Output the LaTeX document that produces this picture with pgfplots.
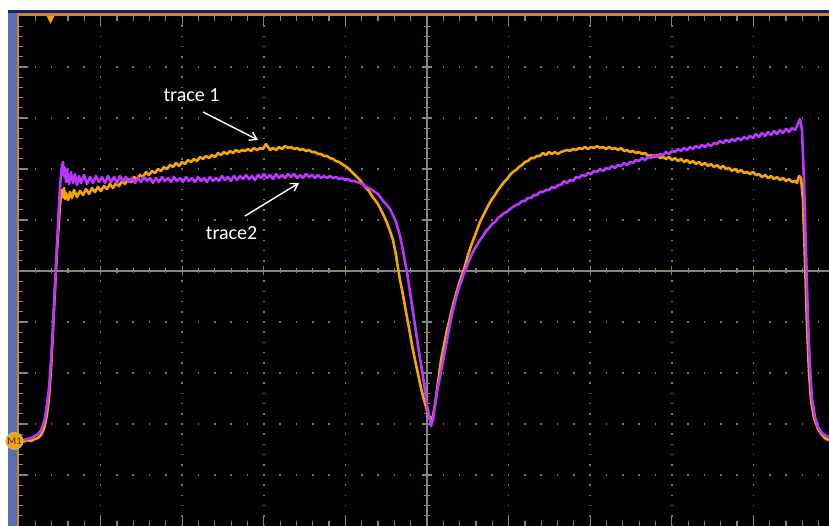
\documentclass[border=0pt]{standalone}
\usepackage{fontspec}
\setmainfont{Carlito}
\usepackage{pgfplots}
\pgfplotsset{compat=1.18}
\usetikzlibrary{arrows.meta}
\definecolor{trOrange}{RGB}{245,165,0}
\definecolor{trPurple}{RGB}{185,55,255}
\definecolor{gridGrey}{RGB}{115,115,105}
\definecolor{axGrey}{RGB}{135,135,120}
\definecolor{navyband}{RGB}{25,30,120}
\definecolor{sideblue}{RGB}{90,110,180}
\definecolor{borderOrange}{RGB}{205,135,40}
\begin{document}
\begin{tikzpicture}
\path[use as bounding box, fill=white] (0,0) rectangle (414.5bp,263bp);
\begin{scope}[x=0.5bp, y=-0.5bp, shift={(0,263bp)}]
  % frame
  \fill[sideblue] (8,10) rectangle (17,526);
  \fill[navyband] (8,10) rectangle (829,13.5);
  \fill[borderOrange] (17,13.5) rectangle (829,16);
  \fill[borderOrange] (17,13.5) rectangle (19,526);
  \fill[black] (19,16) rectangle (829,526);
  % dotted grid
  \foreach \k in {1,2,3,4,6,7,8,9} {
    \draw[gridGrey, line width=0.8bp, dash pattern=on 0.8bp off 4.3bp, dash phase=0.4bp] ({19+81.6*\k},16) -- ({19+81.6*\k},526);
    \draw[gridGrey, line width=0.8bp, dash pattern=on 0.8bp off 7.36bp, dash phase=0.4bp] (19,{16+51*\k}) -- (829,{16+51*\k});
  }
  % centre lines
  \draw[axGrey, line width=0.8bp] (19,271) -- (829,271);
  \draw[axGrey, line width=0.8bp] (427,16) -- (427,526);
  % minor ticks
  \foreach \i in {1,...,49} {
    \draw[axGrey, line width=0.6bp] ({19+16.32*\i},268.5) -- ({19+16.32*\i},273.5);
    \draw[axGrey, line width=0.6bp] ({19+16.32*\i},16) -- ({19+16.32*\i},21);
    \draw[axGrey, line width=0.6bp] ({19+16.32*\i},526) -- ({19+16.32*\i},521);
    \draw[axGrey, line width=0.6bp] (424,{16+10.2*\i}) -- (430,{16+10.2*\i});
    \draw[axGrey, line width=0.6bp] (19,{16+10.2*\i}) -- (23,{16+10.2*\i});
  }
  \foreach \k in {1,...,9} {
    \draw[axGrey, line width=0.6bp] ({19+81.6*\k},266.5) -- ({19+81.6*\k},275.5);
    \draw[axGrey, line width=0.6bp] ({19+81.6*\k},16) -- ({19+81.6*\k},26);
    \draw[axGrey, line width=0.6bp] ({19+81.6*\k},526) -- ({19+81.6*\k},516);
    \draw[axGrey, line width=0.6bp] (422,{16+51*\k}) -- (432,{16+51*\k});
    \draw[axGrey, line width=0.6bp] (19,{16+51*\k}) -- (28,{16+51*\k});
  }
\end{scope}
\begin{axis}[at={(9.5bp,0bp)}, anchor=south west, width=405bp, height=255bp,
  scale only axis, xmin=19, xmax=829, ymin=16, ymax=526, y dir=reverse,
  hide axis, clip=true]
\addplot[trOrange, line width=1.3bp, line join=round, mark=none] coordinates {
(19,441) (23,442) (27,440) (31,441) (35,439) (38,438) (41,435) (43,431) (45,425) (47,414) (49,398) (51,370) (53,330) (55,290) (57,250) (59,220) (60,205) (61,196) (62,190) (63,197) (64,188) (65,199) (66,193) (68,200) (70,192) (72,198) (74,190) (77,197) (80,191) (83,195) (86,189) (89,194) (92,188) (95,192) (98,187) (101,191) (104,186) (107,189) (110,184) (113,188) (116,183) (119,186) (122,181) (125,184) (128,179) (131,182) (134,177) (137,179) (140,175) (143,177) (146,172) (149,175) (152,171) (155,173) (158,169) (161,171) (164,167) (167,169) (170,165) (173,167) (176,163) (179,166) (182,162) (185,164) (188,160) (191,162) (194,159) (197,161) (200,157) (203,159) (206,156) (209,158) (212,155) (215,157) (218,153) (221,155) (224,152) (227,154) (230,151) (233,153) (236,150) (239,152) (242,150) (245,151) (248,149) (251,151) (254,148) (257,150) (260,148) (263,149) (266,144) (268,147) (270,150) (273,148) (276,150) (279,147) (282,149) (285,146) (288,148) (291,147) (294,149) (297,148) (300,150) (303,149) (306,151) (309,150) (312,152) (315,152) (318,154) (321,154) (324,156) (327,156) (330,158) (333,159) (336,161) (339,162) (342,164) (345,166) (348,168) (351,171) (354,174) (357,177) (360,180) (363,184) (366,188) (369,191) (372,196) (375,200) (378,204) (381,210) (384,216) (387,223) (390,231) (393,240) (396,255) (398,268) (400,280) (403,295) (406,312) (409,328) (412,345) (415,360) (418,374) (421,388) (424,400) (427,410) (429,416) (431,419) (433,416) (435,405) (437,390) (439,375) (441,360) (444,345) (447,330) (450,318) (453,305) (456,294) (459,284) (462,275) (465,266) (468,255) (471,246) (474,238) (477,230) (480,222) (483,216) (486,210) (489,204) (492,199) (495,195) (498,190) (501,186) (504,182) (507,179) (510,175) (513,172) (516,170) (519,167) (522,165) (525,162) (528,161) (531,158) (534,158) (537,156) (540,156) (543,153) (546,155) (549,152) (552,154) (555,152) (558,154) (561,152) (564,151) (567,150) (570,151) (573,149) (576,150) (579,148) (582,149) (585,147) (588,149) (591,147) (594,148) (597,146) (600,148) (603,147) (606,149) (609,147) (612,149) (615,148) (618,150) (621,148) (624,151) (627,150) (630,152) (633,151) (636,153) (639,152) (642,154) (645,153) (648,156) (651,155) (654,157) (657,155) (660,158) (663,157) (666,159) (669,157) (672,160) (675,158) (678,161) (681,159) (684,162) (687,160) (690,163) (693,161) (696,164) (699,162) (702,165) (705,163) (708,166) (711,164) (714,167) (717,165) (720,168) (723,166) (726,169) (729,168) (732,171) (735,169) (738,172) (741,170) (744,173) (747,172) (750,174) (753,172) (756,175) (759,174) (762,177) (765,175) (768,178) (771,176) (774,179) (777,177) (780,180) (783,178) (786,181) (789,179) (792,182) (795,181) (797,183) (799,176) (801,178) (803,200) (805,260) (807,325) (809,372) (811,400) (814,418) (818,429) (822,435) (826,439) (829,440)
};
\addplot[trPurple, line width=1.3bp, line join=round, mark=none] coordinates {
(19,440) (23,440) (27,439) (31,438) (35,436) (38,434) (41,430) (43,425) (45,418) (47,405) (49,388) (51,360) (53,325) (55,285) (57,245) (59,205) (60,188) (61,175) (62,166) (63,162) (64,176) (65,168) (66,182) (67,170) (69,184) (71,172) (73,183) (75,174) (77,185) (79,176) (81,183) (84,175) (87,184) (90,177) (93,183) (96,176) (99,182) (102,177) (105,183) (108,176) (111,182) (114,177) (117,183) (120,176) (123,181) (126,177) (129,182) (132,178) (135,183) (138,178) (141,182) (144,177) (147,181) (150,178) (153,183) (156,178) (159,182) (162,177) (165,181) (168,178) (171,182) (174,177) (177,181) (180,178) (183,182) (186,177) (189,181) (192,178) (195,182) (198,177) (201,181) (204,178) (207,182) (210,177) (213,181) (216,178) (219,181) (222,176) (225,180) (228,177) (231,181) (234,176) (237,180) (240,176) (243,179) (246,175) (249,179) (252,176) (255,180) (258,175) (261,178) (264,174) (267,178) (270,175) (273,179) (276,174) (279,178) (282,175) (285,178) (288,174) (291,177) (294,174) (297,178) (300,175) (303,178) (306,174) (309,177) (312,175) (315,178) (318,175) (321,178) (324,176) (327,178) (330,176) (333,178) (336,177) (339,179) (342,178) (345,180) (348,179) (351,181) (354,181) (357,182) (360,183) (363,184) (366,187) (369,188) (372,190) (375,192) (378,194) (381,198) (384,202) (387,205) (390,209) (393,215) (396,222) (399,232) (402,245) (405,262) (407,272) (410,292) (413,312) (416,332) (419,352) (422,370) (425,390) (427,405) (429,416) (431,426) (433,420) (435,405) (437,392) (439,382) (441,372) (444,356) (447,340) (450,324) (453,310) (456,298) (459,288) (462,279) (465,271) (468,263) (471,256) (474,250) (477,245) (480,240) (483,236) (486,231) (489,228) (492,224) (495,222) (498,218) (501,216) (504,213) (507,212) (510,209) (513,207) (516,205) (519,204) (522,201) (525,201) (528,198) (531,198) (534,195) (537,195) (540,192) (543,192) (546,190) (549,190) (552,187) (555,188) (558,185) (561,185) (564,181) (567,183) (570,180) (573,181) (576,177) (579,178) (582,175) (585,176) (588,173) (591,174) (594,171) (597,172) (600,169) (603,171) (606,168) (609,169) (612,166) (615,168) (618,165) (621,166) (624,163) (627,165) (630,162) (633,163) (636,160) (639,161) (642,158) (645,160) (648,157) (651,158) (654,155) (657,157) (660,154) (663,155) (666,152) (669,154) (672,151) (675,152) (678,149) (681,151) (684,148) (687,150) (690,147) (693,149) (696,146) (699,148) (702,145) (705,147) (708,144) (711,146) (714,143) (717,144) (720,141) (723,143) (726,140) (729,142) (732,139) (735,141) (738,138) (741,140) (744,137) (747,139) (750,136) (753,138) (756,134) (759,137) (762,133) (765,136) (768,132) (771,135) (774,131) (777,134) (780,130) (783,133) (786,129) (789,132) (792,128) (795,130) (797,126) (799,121) (800,119) (802,130) (804,180) (806,250) (808,318) (810,368) (812,398) (815,417) (818,427) (822,433) (826,436) (829,437)
};
\end{axis}
\begin{scope}[x=0.5bp, y=-0.5bp, shift={(0,263bp)}]
  \fill[trOrange] (46.5,16) -- (54.5,16) -- (50.5,24) -- cycle;
  \node[white, anchor=base, inner sep=0pt, font=\fontsize{10bp}{12bp}\selectfont] at (191.5,102) {trace 1};
  \node[white, anchor=base, inner sep=0pt, font=\fontsize{10bp}{12bp}\selectfont] at (231.5,240) {trace2};
  \draw[white, line width=0.7bp, -{Straight Barb[length=3.5bp,width=4.5bp]}] (203,112) -- (258,140);
  \draw[white, line width=0.7bp, -{Straight Barb[length=3.5bp,width=4.5bp]}] (245,216) -- (299,183);
  \fill[trOrange, draw=gray!60, line width=0.4bp] (14.5,441) circle (4.3bp);
  \node[inner sep=0pt, text={rgb,255:red,70;green,45;blue,0}, font=\fontsize{5.2bp}{6bp}\selectfont] at (14.5,441) {M1};
\end{scope}
\end{tikzpicture}
\end{document}
